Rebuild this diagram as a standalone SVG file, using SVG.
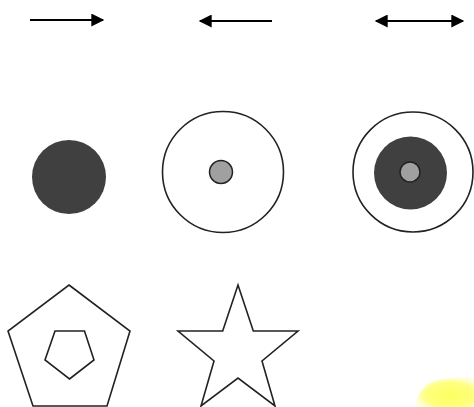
<svg xmlns="http://www.w3.org/2000/svg" width="474" height="407" viewBox="0 0 474 407">
<style>
.ln{stroke:#000;stroke-width:2;fill:none}
.ol{stroke:#222;stroke-width:1.6;fill:#fff}
.dark{fill:#404040}
.gray{fill:#a0a0a0;stroke:#222;stroke-width:1.5}
</style>
<defs>
<marker id="ah" viewBox="0 0 10 10" refX="9" refY="5" markerWidth="15" markerHeight="13" markerUnits="userSpaceOnUse" orient="auto-start-reverse">
<path d="M0,0 L10,5 L0,10 Z" fill="#000"/>
</marker>
<radialGradient id="yg" cx="0.6" cy="0.6" r="0.6">
<stop offset="0" stop-color="#ffff60"/>
<stop offset="0.7" stop-color="#ffff80"/>
<stop offset="1" stop-color="#ffffe0"/>
</radialGradient>
</defs>
<rect width="474" height="407" fill="#fff"/>
<g id="connectors">
<line class="ln" x1="30" y1="20" x2="103" y2="20" marker-end="url(#ah)"/>
<line class="ln" x1="272" y1="21" x2="200" y2="21" marker-end="url(#ah)"/>
<line class="ln" x1="376" y1="21" x2="463" y2="21" marker-start="url(#ah)" marker-end="url(#ah)"/>
</g>
<g id="filled-circle">
<circle class="dark" cx="69" cy="177" r="37"/>
</g>
<g id="ring-dot">
<circle class="ol" cx="223" cy="172" r="60.5"/>
<circle class="gray" cx="221" cy="172" r="11.5"/>
</g>
<g id="bullseye">
<circle class="ol" cx="413" cy="172" r="60"/>
<circle class="dark" cx="410.5" cy="173" r="36.5"/>
<circle class="gray" cx="410" cy="172" r="10" stroke="#333"/>
</g>
<g id="pentagon">
<polygon class="ol" points="69,285 130,331 107,406 33,406 8,331"/>
<polygon class="ol" points="69.5,379 94,360 84.5,331 55,331 45,360"/>
</g>
<g id="star">
<polygon class="ol" points="238,285 253.3,331 298,331 262,361 275,406 238,378 201,406 214,361 178,331 222.7,331"/>
</g>
<g id="yellow-blob">
<path d="M415,407 C417,392 426,381 443,379 C456,377 467,377 474,378 L474,407 Z" fill="url(#yg)"/>
</g>
</svg>
